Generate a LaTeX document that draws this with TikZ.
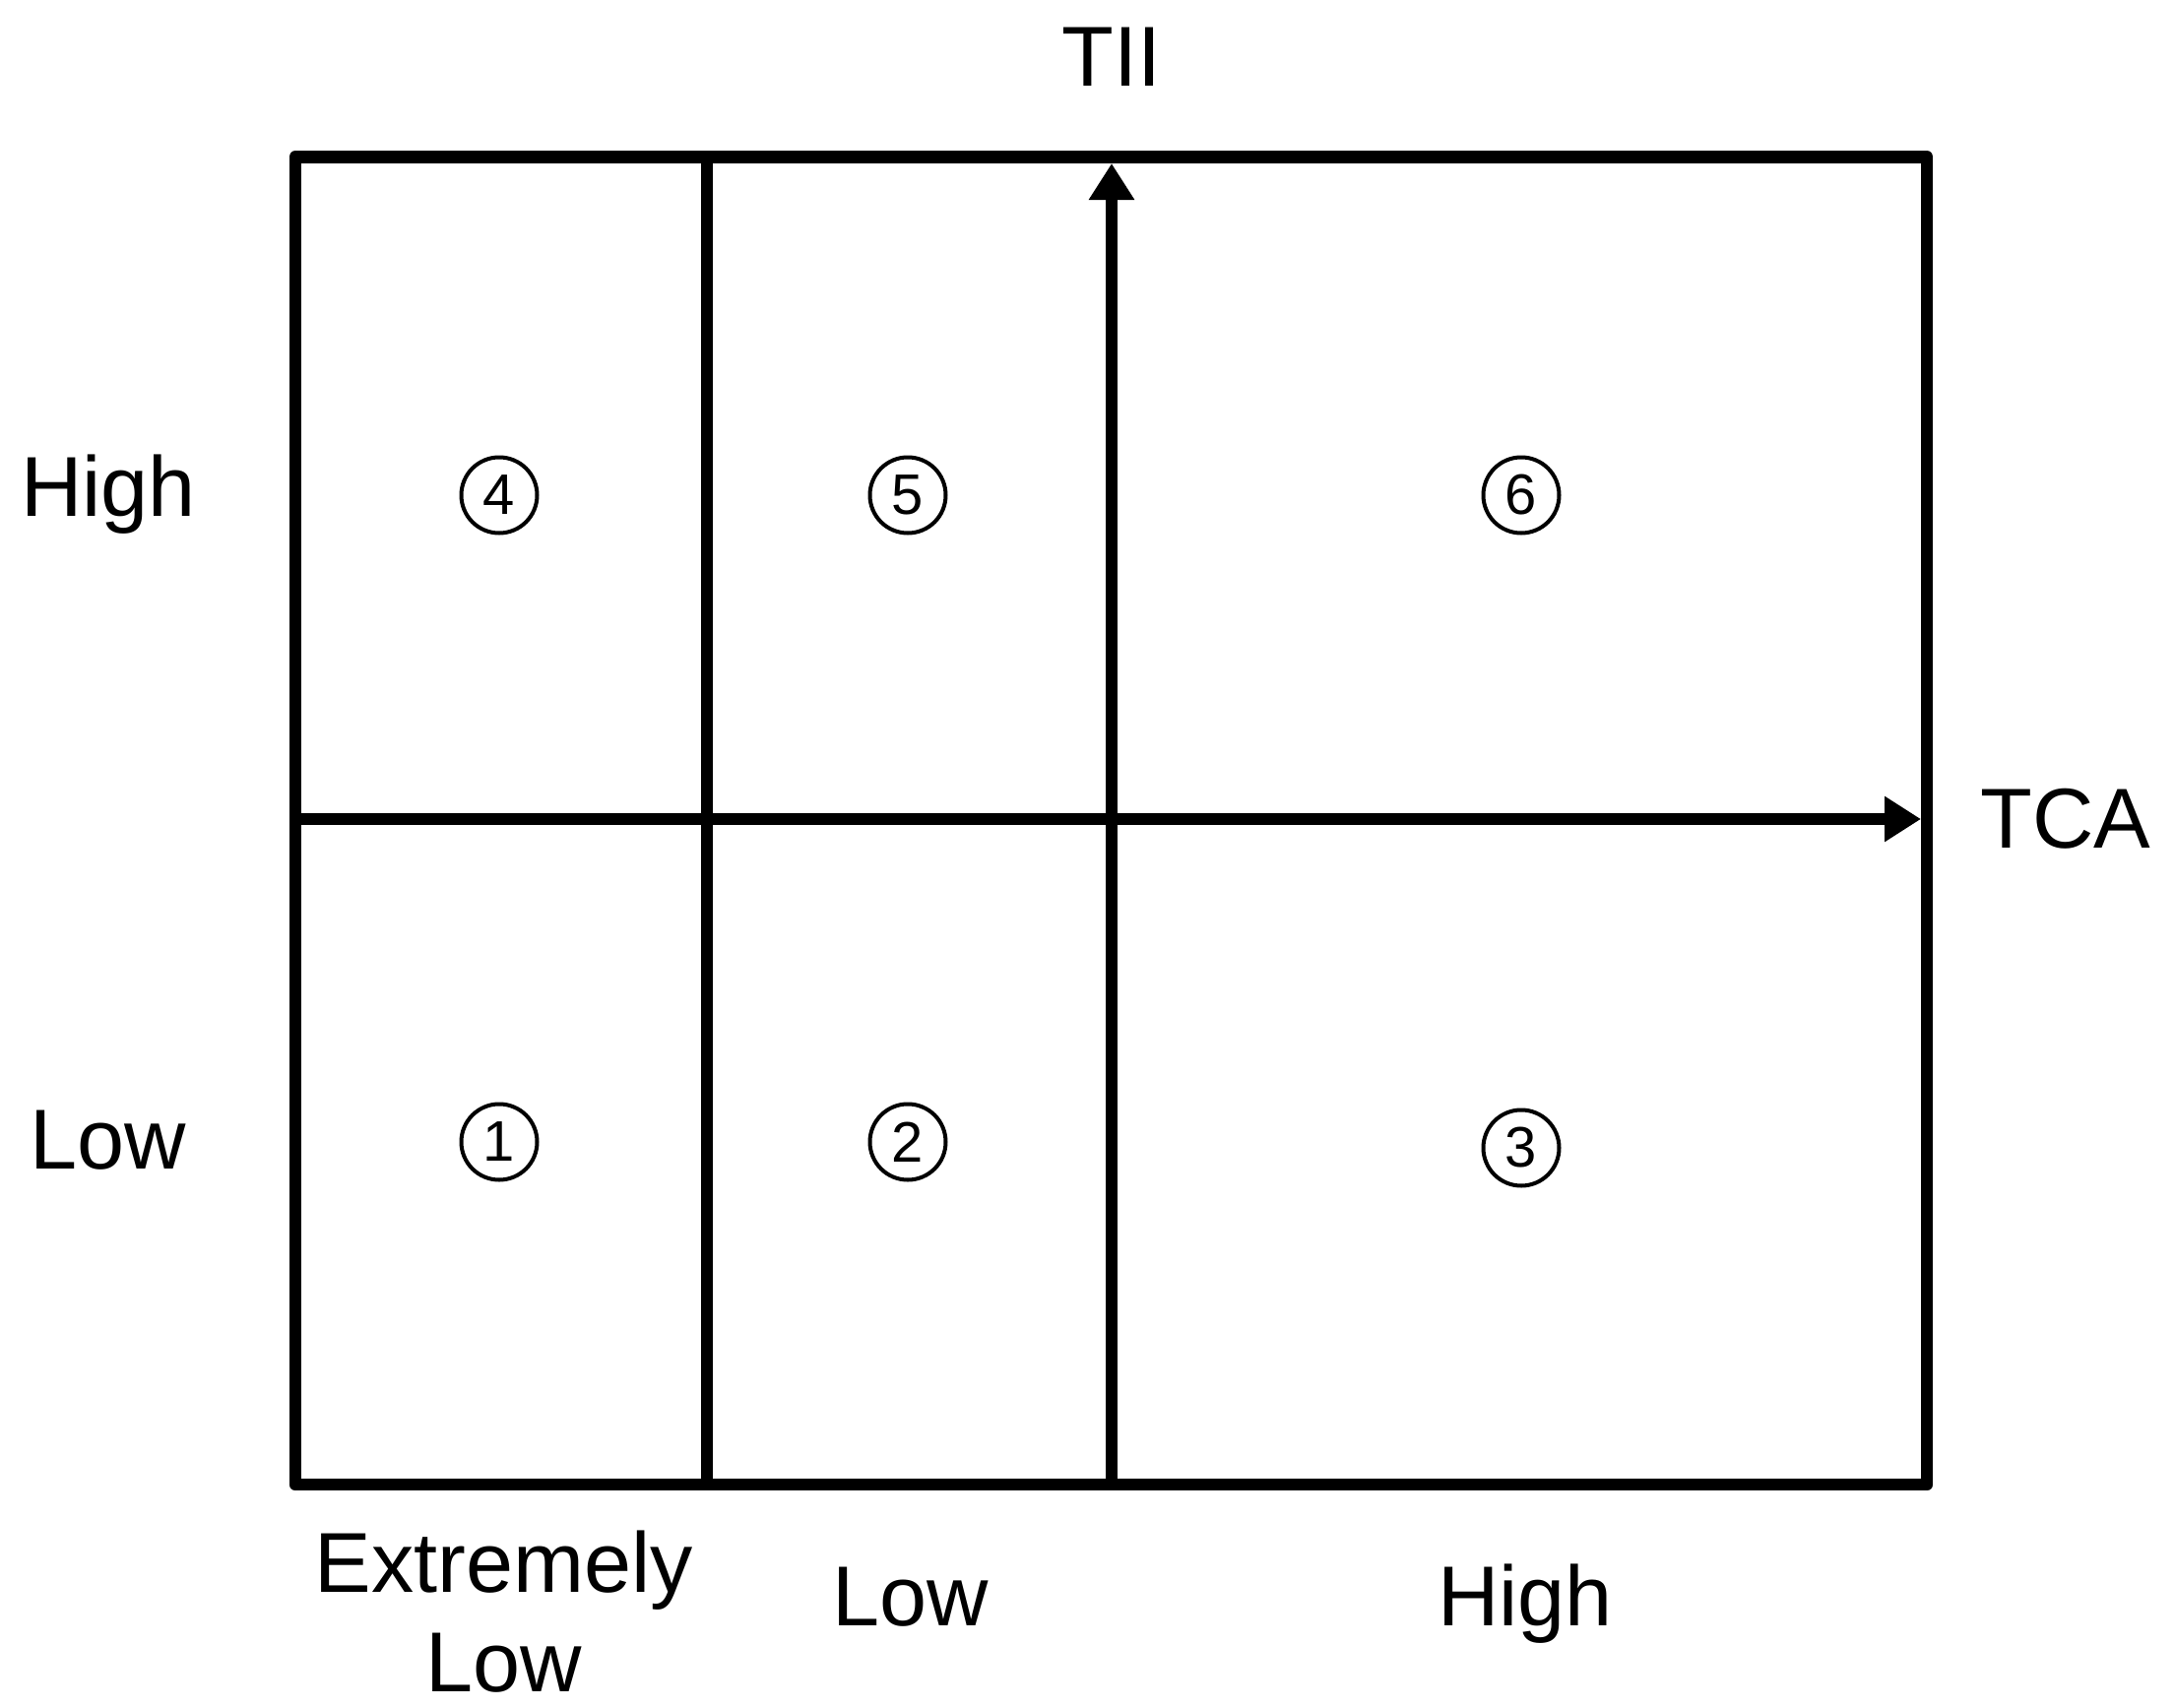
\documentclass[tikz,border=0pt]{standalone}
\usepackage{fontspec}
\setmainfont{Liberation Sans}
\usetikzlibrary{arrows.meta}
\begin{document}
\begin{tikzpicture}[x=0.25pt,y=-0.25pt,
  frame/.style={line width=3.2pt,line join=round,line cap=butt},
  axis/.style={line width=3.2pt,-{Triangle[length=9.25pt,width=11pt]}},
  lbl/.style={inner sep=0pt,anchor=base,font=\fontsize{21.6pt}{25pt}\selectfont},
  num/.style={circle,draw,line width=1pt,minimum size=19.25pt,inner sep=0pt,font=\fontsize{14.5pt}{17pt}\selectfont}]
\useasboundingbox (0,0) rectangle (2208,1735);
% frame and dividers
\coordinate (tl) at (300,159.5);
\coordinate (br) at (1957,1508);
\draw[frame] (tl) rectangle (br);
\coordinate (v1t) at (718,159.5);
\coordinate (v1b) at (718,1508);
\draw[frame] (v1t) -- (v1b);
% axes
\coordinate (yb) at (1129,1508);
\coordinate (yt) at (1129,166);
\draw[axis] (yb) -- (yt);
\coordinate (xl) at (300,832);
\coordinate (xr) at (1951,832);
\draw[axis] (xl) -- (xr);
% axis labels
\node[lbl] (tii) at (1129,87) {TII};
\node[lbl,anchor=base west] (tca) at (2011,861) {TCA};
\node[lbl] (yhigh) at (110,524) {High};
\node[lbl] (ylow) at (110,1187) {Low};
\node[lbl] (xel1) at (512,1617) {Extremely};
\node[lbl] (xel2) at (512,1718) {Low};
\node[lbl] (xlow) at (925,1651) {Low};
\node[lbl] (xhigh) at (1549,1651) {High};
% cells
\node[num] (c4) at (507,503) {4};
\node[num] (c5) at (922,503) {5};
\node[num] (c6) at (1545,503) {6};
\node[num] (c1) at (507,1160) {1};
\node[num] (c2) at (922,1160) {2};
\node[num] (c3) at (1545,1166) {3};
\end{tikzpicture}
\end{document}
